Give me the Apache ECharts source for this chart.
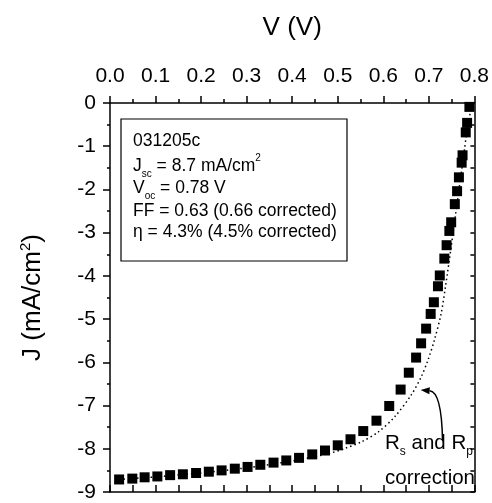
<!DOCTYPE html>
<html><head><meta charset="utf-8">
<script src="https://cdn.jsdelivr.net/npm/echarts@6/dist/echarts.min.js"></script>
<style>html,body{margin:0;padding:0;background:#fff}#c{width:492px;height:503px}</style>
</head><body><div id="c"></div>
<script>
// Measured J-V points (V in volts, J in mA/cm2)
const vMeasured = [0.020,0.049,0.076,0.104,0.132,0.160,0.189,0.217,0.245,0.274,0.302,0.330,0.359,0.387,0.415,0.444,0.472,0.500,0.528,0.556,0.585,0.613,0.638,0.656,0.672,0.683,0.694,0.704,0.711,0.720,0.724,0.734,0.739,0.745,0.749,0.757,0.762,0.766,0.772,0.774,0.781,0.784,0.789];
const jMeasured = [-8.71,-8.69,-8.66,-8.64,-8.61,-8.59,-8.56,-8.53,-8.50,-8.46,-8.42,-8.37,-8.32,-8.27,-8.21,-8.13,-8.04,-7.92,-7.78,-7.59,-7.35,-7.01,-6.63,-6.24,-5.89,-5.56,-5.22,-4.88,-4.61,-4.24,-3.99,-3.60,-3.29,-2.96,-2.76,-2.34,-2.04,-1.72,-1.38,-1.21,-0.68,-0.46,-0.09];
// Rs and Rp corrected curve (dotted)
const vCorrected = [0.02,0.10,0.20,0.30,0.40,0.48,0.516,0.552,0.589,0.625,0.661,0.683,0.698,0.712,0.727,0.737,0.748,0.758,0.767,0.778,0.783,0.790,0.795];
const jCorrected = [-8.71,-8.65,-8.56,-8.44,-8.28,-8.11,-7.99,-7.84,-7.61,-7.26,-6.76,-6.34,-5.95,-5.49,-4.87,-4.21,-3.40,-2.63,-1.94,-1.09,-0.70,-0.28,0.0];
// Annotation arrow (data coords): start, control, end
const arrowV = [0.730, 0.728, 0.682];
const arrowJ = [-7.80, -6.68, -6.64];
// Info box text lines
const boxLines = [
  '{n|031205c}',
  '{n|J}{sub|sc}{n| = 8.7 mA/cm}{sup|2}',
  '{n|V}{sub|oc}{n| = 0.78 V}',
  '{n|FF = 0.63 (0.66 corrected)}',
  '{n|η = 4.3% (4.5% corrected)}'
];
const FONT = '"Liberation Sans", Arial, sans-serif';

const chart = echarts.init(document.getElementById('c'), null, {renderer:'canvas'});
const ax = {color:'#000', width:1.5};
function zip(a,b){return a.map((v,i)=>[v,b[i]]);}

chart.setOption({
  animation:false,
  backgroundColor:'#fff',
  grid:{left:110, right:15, top:103, bottom:11, containLabel:false},
  xAxis:[
    {type:'value', position:'top', min:0, max:0.8, interval:0.1,
     name:'V (V)', nameLocation:'middle', nameGap:62,
     nameTextStyle:{fontSize:26, fontFamily:FONT, color:'#000'},
     axisLine:{show:true, onZero:false, lineStyle:ax},
     axisTick:{show:true, inside:false, length:7, lineStyle:ax},
     minorTick:{show:true, splitNumber:2, length:4, lineStyle:ax},
     axisLabel:{show:true, fontSize:21, fontFamily:FONT, color:'#000', margin:16, formatter:v=>v.toFixed(1), showMinLabel:true, showMaxLabel:true},
     splitLine:{show:false}, minorSplitLine:{show:false}},
    {type:'value', position:'bottom', min:0, max:0.8, interval:0.05,
     axisLine:{show:true, onZero:false, lineStyle:ax},
     axisTick:{show:true, inside:true, length:7, lineStyle:ax},
     axisLabel:{show:false}, splitLine:{show:false}}
  ],
  yAxis:[
    {type:'value', position:'left', min:-9, max:0, interval:1,
     name:'{a|J (mA/cm}{s|2}{a|)}', nameLocation:'middle', nameGap:62, nameRotate:90,
     nameTextStyle:{fontFamily:FONT, color:'#000', rich:{
       a:{fontSize:26, fontFamily:FONT, color:'#000', lineHeight:30},
       s:{fontSize:15, fontFamily:FONT, color:'#000', lineHeight:24, verticalAlign:'top'}}},
     axisLine:{show:true, onZero:false, lineStyle:ax},
     axisTick:{show:true, inside:false, length:7, lineStyle:ax},
     minorTick:{show:true, splitNumber:2, length:3, lineStyle:ax},
     axisLabel:{show:true, fontSize:21, fontFamily:FONT, color:'#000', margin:14, showMinLabel:true, showMaxLabel:true},
     splitLine:{show:false}, minorSplitLine:{show:false}},
    {type:'value', position:'right', min:-9, max:0, interval:0.5,
     axisLine:{show:true, onZero:false, lineStyle:ax},
     axisTick:{show:true, inside:true, length:4, lineStyle:ax},
     axisLabel:{show:false}, splitLine:{show:false}}
  ],
  series:[
    {type:'line', xAxisIndex:0, yAxisIndex:0, data:zip(vCorrected,jCorrected), smooth:0.3,
     showSymbol:false, symbol:'none', lineStyle:{color:'#000', width:1.5, type:[1.5,3], opacity:1}, z:2, silent:true},
    {type:'scatter', xAxisIndex:0, yAxisIndex:0, data:zip(vMeasured,jMeasured), symbol:'rect', symbolSize:10,
     itemStyle:{color:'#000', opacity:1}, z:3, silent:true}
  ]
});

const p = arrowV.map((v,i)=>chart.convertToPixel({xAxisIndex:0, yAxisIndex:0},[v, arrowJ[i]]));
const dx = p[2][0]-p[1][0], dy = p[2][1]-p[1][1], L = Math.hypot(dx,dy)||1;
const ux = dx/L, uy = dy/L, hl = 9, hw = 3.5;
const tip = p[2], base = [tip[0]-ux*hl, tip[1]-uy*hl];
const richBox = {
  n:{fontSize:17.5, fontFamily:FONT, color:'#000', lineHeight:26, verticalAlign:'middle'},
  sub:{fontSize:10, fontFamily:FONT, color:'#000', lineHeight:10, verticalAlign:'bottom'},
  sup:{fontSize:10, fontFamily:FONT, color:'#000', lineHeight:18, verticalAlign:'top'}
};
const lineY = [141, 166, 188, 211.5, 232];
const g = [
  {type:'rect', shape:{x:121, y:119, width:226, height:142}, style:{fill:'#fff', stroke:'#000', lineWidth:1.2}, z:10},
  {type:'bezierCurve', shape:{x1:p[0][0], y1:p[0][1], cpx1:p[1][0], cpy1:p[1][1], x2:base[0], y2:base[1]},
   style:{stroke:'#000', lineWidth:1.5, fill:null}, z:10},
  {type:'polygon', shape:{points:[tip,[base[0]-uy*hw, base[1]+ux*hw],[base[0]+uy*hw, base[1]-ux*hw]]}, style:{fill:'#000'}, z:10},
  {type:'text', x:385, y:443, style:{text:'{n|R}{sub|s}{n| and R}{sub|p}', textVerticalAlign:'middle', rich:{
    n:{fontSize:20.5, fontFamily:FONT, color:'#000', lineHeight:30, verticalAlign:'middle'},
    sub:{fontSize:12, fontFamily:FONT, color:'#000', lineHeight:12, verticalAlign:'bottom'}}}, z:10},
  {type:'text', x:385, y:478, style:{text:'correction', fontSize:20.5, fontFamily:FONT, fill:'#000', textVerticalAlign:'middle'}, z:10}
];
boxLines.forEach((t,i)=>{
  g.push({type:'text', x:133, y:lineY[i], style:{text:t, rich:richBox, textVerticalAlign:'middle'}, z:11});
});
chart.setOption({graphic:g});
</script></body></html>
